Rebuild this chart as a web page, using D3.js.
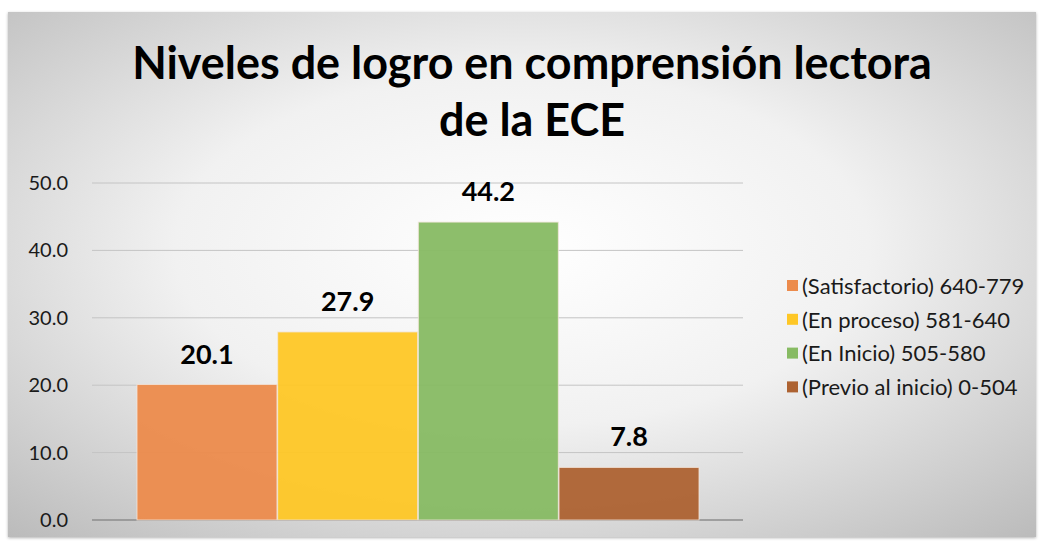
<!DOCTYPE html>
<html>
<head>
<meta charset="utf-8">
<script src="https://cdn.jsdelivr.net/npm/d3@7"></script>
<style>
  html, body { margin: 0; padding: 0; background: #fff; }
  svg { display: block; }
</style>
</head>
<body>
<svg id="chart"></svg>
<script>
"use strict";

// Chart data
const levels = ["(Satisfactorio) 640-779", "(En proceso) 581-640", "(En Inicio) 505-580", "(Previo al inicio) 0-504"];
const percents = [20.1, 27.9, 44.2, 7.8];
const colors = ["#ec8b4c", "#fec726", "#87bb63", "#ad6231"];
const y_ticks = [0, 10, 20, 30, 40, 50];
const title_lines = ["Niveles de logro en comprensión lectora", "de la ECE"];

const width = 1042, height = 543;
const FONT = "Lato, 'Open Sans', sans-serif";

const svg = d3.select("#chart").attr("width", width).attr("height", height);

// Background gradient of the chart panel
const defs = svg.append("defs");
const grad = defs.append("radialGradient")
    .attr("id", "bg_grad")
    .attr("cx", "50%").attr("cy", "45%").attr("r", "75%");
grad.append("stop").attr("offset", "0%").attr("stop-color", "#ffffff");
grad.append("stop").attr("offset", "45%").attr("stop-color", "#f1f1f1");
grad.append("stop").attr("offset", "100%").attr("stop-color", "#bababa");

const shadow = defs.append("filter").attr("id", "shadow")
    .attr("x", "-5%").attr("y", "-5%").attr("width", "110%").attr("height", "110%");
shadow.append("feDropShadow").attr("dx", 0).attr("dy", 1).attr("stdDeviation", 1.5)
    .attr("flood-color", "#000").attr("flood-opacity", 0.3);

svg.append("rect")
    .attr("x", 8).attr("y", 12)
    .attr("width", 1028).attr("height", 525)
    .attr("fill", "url(#bg_grad)")
    .attr("filter", "url(#shadow)");

// Title
const title = svg.append("g").attr("class", "title");
title.selectAll("text")
    .data(title_lines)
    .join("text")
    .attr("x", 532)
    .attr("y", function(d, i) { return 79 + i * 57; })
    .attr("text-anchor", "middle")
    .attr("font-family", FONT)
    .attr("font-weight", "bold")
    .attr("font-size", 42)
    .attr("fill", "#000")
    .text(function(d) { return d; });

// Squeeze the title into the width the reference uses
title.select("text").each(function() {
    const w = this.getComputedTextLength();
    const fs = 42 * 800 / w;
    title.selectAll("text").attr("font-size", Math.min(fs, 48));
});

// Plot area
const margins = {left: 92, right: 299, top: 183, bottom: 23};
const plot_left = margins.left, plot_right = width - margins.right;
const plot_top = margins.top, plot_bottom = height - margins.bottom;

const y_scale = d3.scaleLinear().domain([0, 50]).range([plot_bottom, plot_top]);
const x_scale = d3.scaleBand().domain(levels).range([137, 699]).paddingInner(0.005);

// Gridlines
svg.append("g")
    .attr("class", "grid")
    .selectAll("line")
    .data(y_ticks)
    .join("line")
    .attr("x1", plot_left).attr("x2", plot_right)
    .attr("y1", function(d) { return y_scale(d); })
    .attr("y2", function(d) { return y_scale(d); })
    .attr("stroke", function(d) { return d === 0 ? "#8c8c8c" : "#c4c4c4"; })
    .attr("stroke-width", function(d) { return d === 0 ? 1.5 : 1; });

// Y axis labels
const y_axis = d3.axisLeft(y_scale).tickValues(y_ticks).tickFormat(d3.format(".1f")).tickSize(0).tickPadding(24);
const y_g = svg.append("g")
    .attr("transform", "translate(" + plot_left + ",0)")
    .call(y_axis);
y_g.select(".domain").remove();
y_g.selectAll("text")
    .attr("font-family", FONT)
    .attr("font-size", 20)
    .attr("fill", "#1a1a1a");

// Bars
svg.append("g")
    .attr("class", "bars")
    .selectAll("rect")
    .data(percents)
    .join("rect")
    .attr("x", function(d, i) { return x_scale(levels[i]); })
    .attr("y", function(d) { return y_scale(d); })
    .attr("width", x_scale.bandwidth())
    .attr("height", function(d) { return y_scale(0) - y_scale(d); })
    .attr("fill", function(d, i) { return colors[i]; })
    .attr("fill-opacity", 0.95)
    .attr("stroke", "#f4e6dc")
    .attr("stroke-opacity", 0.8)
    .attr("stroke-width", 1);

// Value labels
svg.append("g")
    .attr("class", "labels")
    .selectAll("text")
    .data(percents)
    .join("text")
    .attr("x", function(d, i) { return x_scale(levels[i]) + x_scale.bandwidth() / 2; })
    .attr("y", function(d) { return y_scale(d) - 21; })
    .attr("text-anchor", "middle")
    .attr("font-family", FONT)
    .attr("font-weight", "bold")
    .attr("font-size", 27)
    .attr("fill", "#000")
    .text(function(d) { return d.toFixed(1); });

// Legend
const legend = svg.append("g").attr("class", "legend");
const items = legend.selectAll("g")
    .data(levels)
    .join("g")
    .attr("transform", function(d, i) { return "translate(787," + (286 + i * 33.8) + ")"; });
items.append("rect")
    .attr("x", 0).attr("y", -6)
    .attr("width", 11).attr("height", 11)
    .attr("fill", function(d, i) { return colors[i]; });
items.append("text")
    .attr("x", 15).attr("y", 0)
    .attr("dy", "0.35em")
    .attr("font-family", FONT)
    .attr("font-size", 22)
    .attr("fill", "#1a1a1a")
    .text(function(d) { return d; });
</script>
</body>
</html>
